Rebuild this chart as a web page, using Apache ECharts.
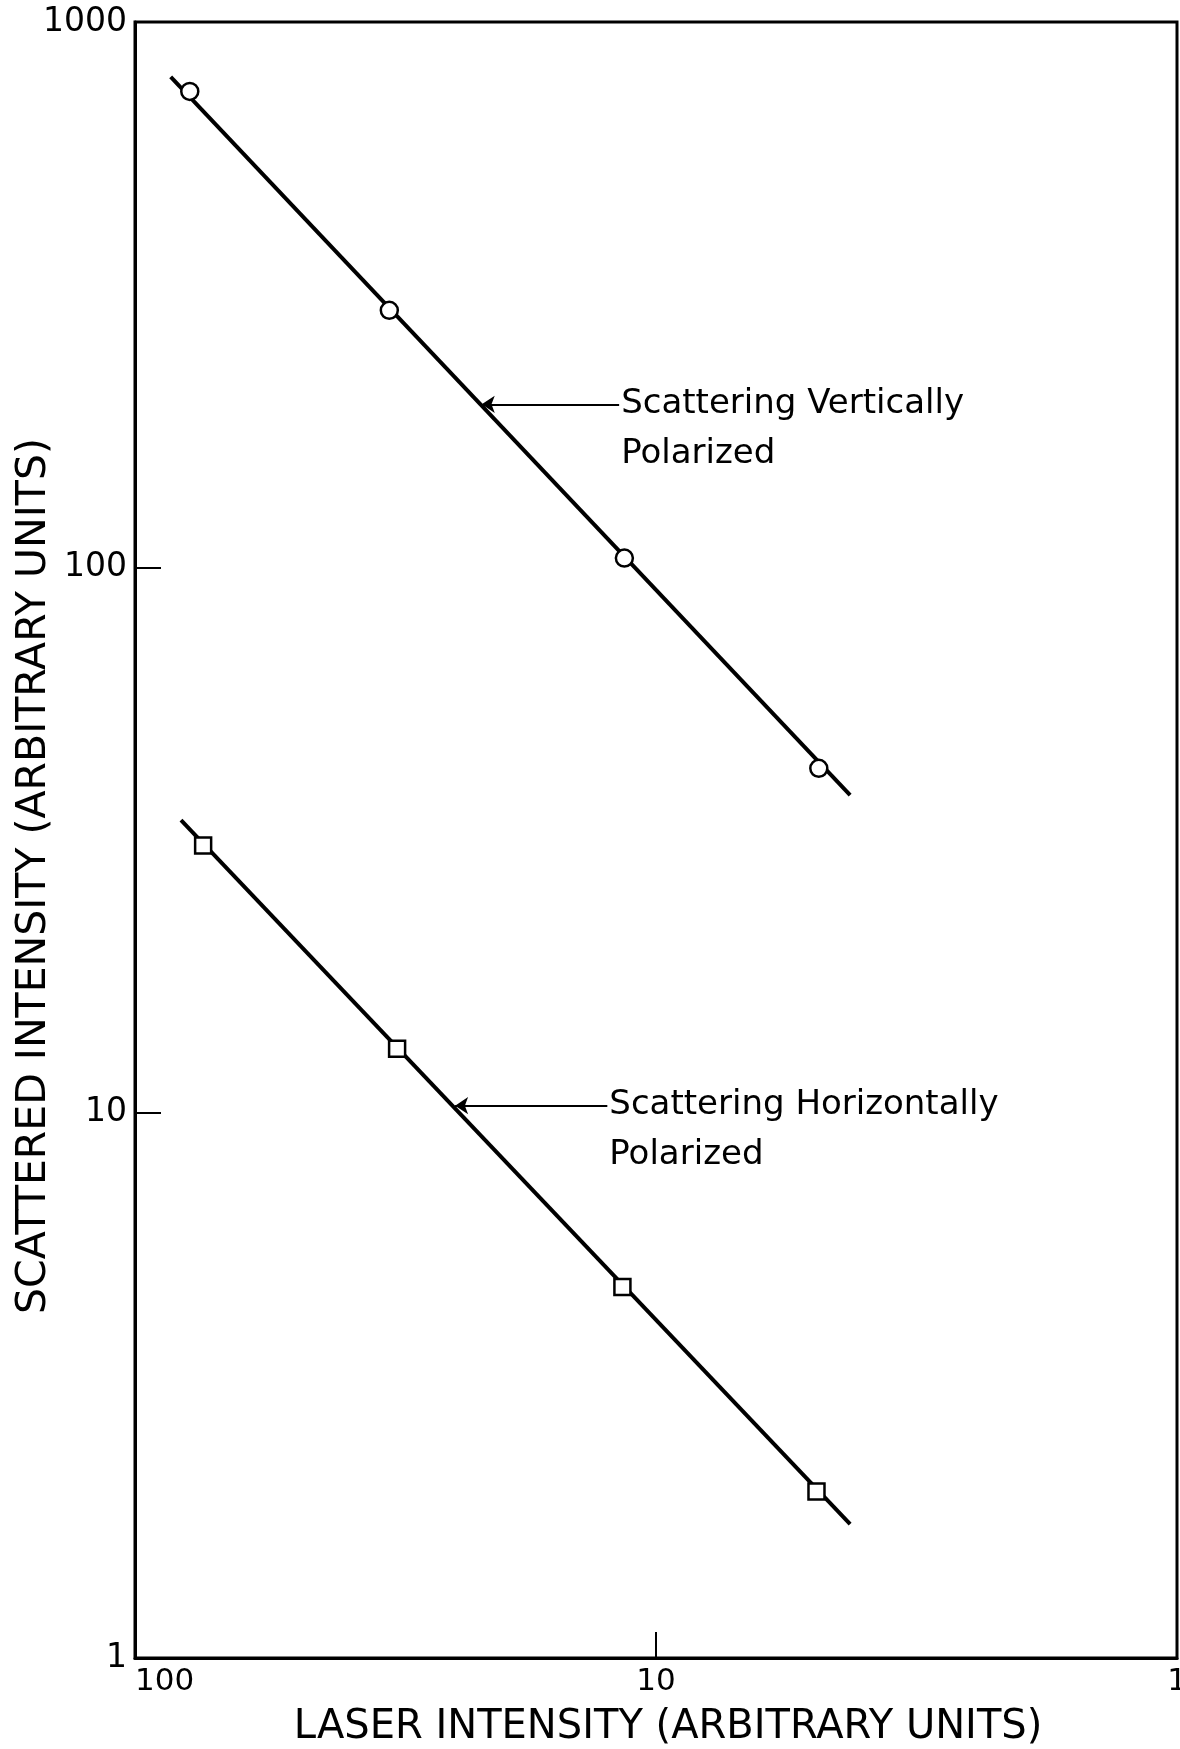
<!DOCTYPE html>
<html><head><meta charset="utf-8">
<script src="https://cdn.jsdelivr.net/npm/echarts@6/dist/echarts.min.js"></script>
<style>html,body{margin:0;padding:0;background:#fff}#c{width:1180px;height:1749px}</style>
</head><body><div id="c"></div>
<script>
// Tick values
const xTickValues = [1, 10, 100];
const yTickValues = [1, 10, 100, 1000];
// Measured points: scattering vertically polarized (circles)
const vertLaser = [78.5, 32.5, 11.5, 4.87];
const vertScatter = [746, 296, 104, 42.8];
// Measured points: scattering horizontally polarized (squares)
const horizLaser = [74.0, 31.4, 11.6, 4.92];
const horizScatter = [30.9, 13.1, 4.79, 2.02];
// Fitted lines (end points)
const vertFitLaser = [85.4, 4.24];
const vertFitScatter = [793, 38.2];
const horizFitLaser = [81.6, 4.24];
const horizFitScatter = [34.4, 1.76];
// Annotation arrows: [tail, tip]
const vertArrowLaser = [11.77, 21.6];
const vertArrowScatter = [199, 199];
const horizArrowLaser = [12.4, 24.3];
const horizArrowScatter = [10.3, 10.3];
const annotationTexts = ['Scattering Vertically\nPolarized', 'Scattering Horizontally\nPolarized'];
const xAxisTitle = 'LASER INTENSITY (ARBITRARY UNITS)';
const yAxisTitle = 'SCATTERED INTENSITY (ARBITRARY UNITS)';

const FONT = 'DejaVu Sans';
const zip = (a, b) => a.map((v, i) => [v, b[i]]);

function arrowSeries(lx, ly, text) {
  return {
    type: 'scatter',
    symbolSize: 0,
    silent: true,
    itemStyle: {opacity: 1},
    data: [{value: [lx[0], ly[0]], name: text}],
    label: {
      show: true, position: 'right', distance: 2,
      formatter: p => p.name,
      color: '#000', fontFamily: FONT, fontSize: 34,
      align: 'left', verticalAlign: 'top', lineHeight: 50, offset: [0, -25]
    },
    markLine: {
      silent: true,
      symbol: ['none', 'arrow'],
      symbolSize: 13,
      label: {show: false},
      lineStyle: {color: '#000', width: 2, type: 'solid', opacity: 1},
      data: [[{coord: [lx[0], ly[0]]}, {coord: [lx[1], ly[1]]}]]
    }
  };
}

const chart = echarts.init(document.getElementById('c'), null, {renderer: 'canvas'});
chart.setOption({
  animation: false,
  backgroundColor: '#fff',
  grid: {left: 135, top: 22, right: 3, bottom: 91, show: true, borderColor: '#000', borderWidth: 3,
         containLabel: false, outerBoundsMode: 'none'},
  xAxis: {
    type: 'log', logBase: 10, min: xTickValues[0], max: xTickValues[xTickValues.length - 1],
    inverse: true,
    name: xAxisTitle, nameLocation: 'middle', nameGap: 50,
    nameTextStyle: {color: '#000', fontFamily: FONT, fontSize: 40, padding: [0, 0, 0, 24]},
    axisLine: {show: true, lineStyle: {color: '#000', width: 3}},
    axisTick: {show: true, inside: true, length: 26, lineStyle: {color: '#000', width: 2}},
    axisLabel: {color: '#000', fontFamily: FONT, fontSize: 31, margin: 8, alignMaxLabel: 'left',
      formatter: v => String(v)},
    splitLine: {show: false}, minorTick: {show: false}
  },
  yAxis: {
    type: 'log', logBase: 10, min: yTickValues[0], max: yTickValues[yTickValues.length - 1],
    name: yAxisTitle, nameLocation: 'middle', nameGap: 80, nameMoveOverlap: false,
    nameTextStyle: {color: '#000', fontFamily: FONT, fontSize: 41, padding: [0, 72, 0, 0]},
    axisLine: {show: true, lineStyle: {color: '#000', width: 3}},
    axisTick: {show: true, inside: true, length: 26, lineStyle: {color: '#000', width: 2}},
    axisLabel: {color: '#000', fontFamily: FONT, fontSize: 33, margin: 8, formatter: v => String(v)},
    splitLine: {show: false}, minorTick: {show: false}
  },
  series: [
    {type: 'line', data: zip(vertFitLaser, vertFitScatter), symbol: 'none',
     lineStyle: {color: '#000', width: 4, opacity: 1}, z: 2},
    {type: 'line', data: zip(horizFitLaser, horizFitScatter), symbol: 'none',
     lineStyle: {color: '#000', width: 4, opacity: 1}, z: 2},
    {type: 'scatter', data: zip(vertLaser, vertScatter), symbol: 'circle', symbolSize: 17,
     itemStyle: {color: '#fff', borderColor: '#000', borderWidth: 2.5, opacity: 1}, z: 5},
    {type: 'scatter', data: zip(horizLaser, horizScatter), symbol: 'rect', symbolSize: 16,
     itemStyle: {color: '#fff', borderColor: '#000', borderWidth: 2.5, opacity: 1}, z: 5},
    arrowSeries(vertArrowLaser, vertArrowScatter, annotationTexts[0]),
    arrowSeries(horizArrowLaser, horizArrowScatter, annotationTexts[1])
  ]
});
</script></body></html>
